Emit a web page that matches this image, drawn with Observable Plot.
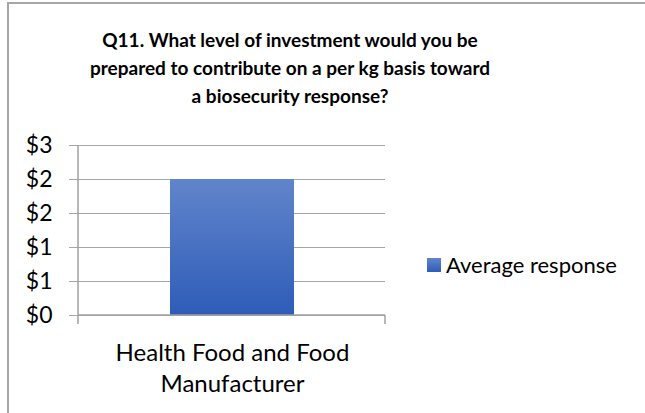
<!DOCTYPE html>
<html>
<head>
<meta charset="utf-8">
<script src="https://cdn.jsdelivr.net/npm/d3@7"></script>
<script src="https://cdn.jsdelivr.net/npm/@observablehq/plot@0.6"></script>
<style>
  html, body { margin: 0; padding: 0; background: #fff; }
  #chart { position: relative; width: 645px; height: 413px; overflow: hidden; background: #fff; font-family: Lato, "Open Sans", sans-serif; color: #000; }
  #frame { position: absolute; left: 7px; top: 2px; width: 700px; height: 500px; border: 2px solid #a6a6a6; box-sizing: border-box; }
  #title { position: absolute; left: 0; width: 580px; top: 26px; text-align: center; font-weight: bold; font-size: 19px; line-height: 28px; }
  #plot { position: absolute; left: 0; top: 0; }
  #legend { position: absolute; left: 427px; top: 253px; display: flex; align-items: center; font-size: 22px; line-height: 24px; }
  #legend .sw { width: 14px; height: 14px; margin-right: 5px; background: linear-gradient(#6185cb, #2e5cb8); }
</style>
</head>
<body>
<div id="chart">
  <div id="frame"></div>
  <div id="plot"></div>
  <div id="title">Q11. What level of investment would you be<br>prepared to contribute on a per kg basis toward<br>a biosecurity response?</div>
  <div id="legend"></div>
</div>
<script>
const categories = ["Health Food and Food Manufacturer"];
const averageResponse = [2.0];
const seriesName = "Average response";
const yTicks = [0, 0.5, 1, 1.5, 2, 2.5];

const data = categories.map((c, i) => ({category: c, value: averageResponse[i]}));

const axisLines = (index, scales, values, dims) => {
  const {width, height, marginLeft, marginRight, marginBottom, marginTop} = dims;
  const g = d3.create("svg:g").attr("stroke", "#a0a0a0").attr("stroke-width", 1.5);
  const y0 = height - marginBottom;
  g.append("line").attr("x1", marginLeft).attr("x2", marginLeft).attr("y1", marginTop).attr("y2", y0 + 9);
  g.append("line").attr("x1", marginLeft).attr("x2", width - marginRight).attr("y1", y0).attr("y2", y0);
  g.append("line").attr("x1", width - marginRight).attr("x2", width - marginRight).attr("y1", y0).attr("y2", y0 + 9);
  return g.node();
};

const svg = Plot.plot({
  width: 645,
  height: 413,
  marginLeft: 78,
  marginRight: 260,
  marginTop: 145,
  marginBottom: 98,
  style: {fontFamily: "Lato, 'Open Sans', sans-serif", fontSize: "22px", color: "#000", background: "transparent", overflow: "visible"},
  x: {domain: categories, padding: 0.4245, label: null},
  y: {domain: [0, 2.5], label: null},
  marks: [
    Plot.gridY(yTicks, {stroke: "#a6a6a6", strokeOpacity: 1, strokeWidth: 1}),
    Plot.barY(data, {x: "category", y: "value", fill: "url(#barGrad)"}),
    Plot.axisY(yTicks, {tickSize: 9, tickPadding: 17, fontSize: 23, tickFormat: d => "$" + Math.round(d), stroke: "#a6a6a6", fill: "#000", label: null}),
    Plot.axisX({tickSize: 0, tickPadding: 23, fontSize: 24, lineHeight: 1.3, tickFormat: d => d.replace(" and Food ", " and Food\n"), fill: "#000", label: null}),
    axisLines
  ]
});

const defs = d3.select(svg).insert("defs", ":first-child");
const grad = defs.append("linearGradient").attr("id", "barGrad").attr("x1", 0).attr("y1", 0).attr("x2", 0).attr("y2", 1);
grad.append("stop").attr("offset", "0%").attr("stop-color", "#6185cb");
grad.append("stop").attr("offset", "100%").attr("stop-color", "#2e5cb8");

document.getElementById("plot").appendChild(svg);

const legend = d3.select("#legend");
legend.append("div").attr("class", "sw");
legend.append("span").text(seriesName);
</script>
</body>
</html>
